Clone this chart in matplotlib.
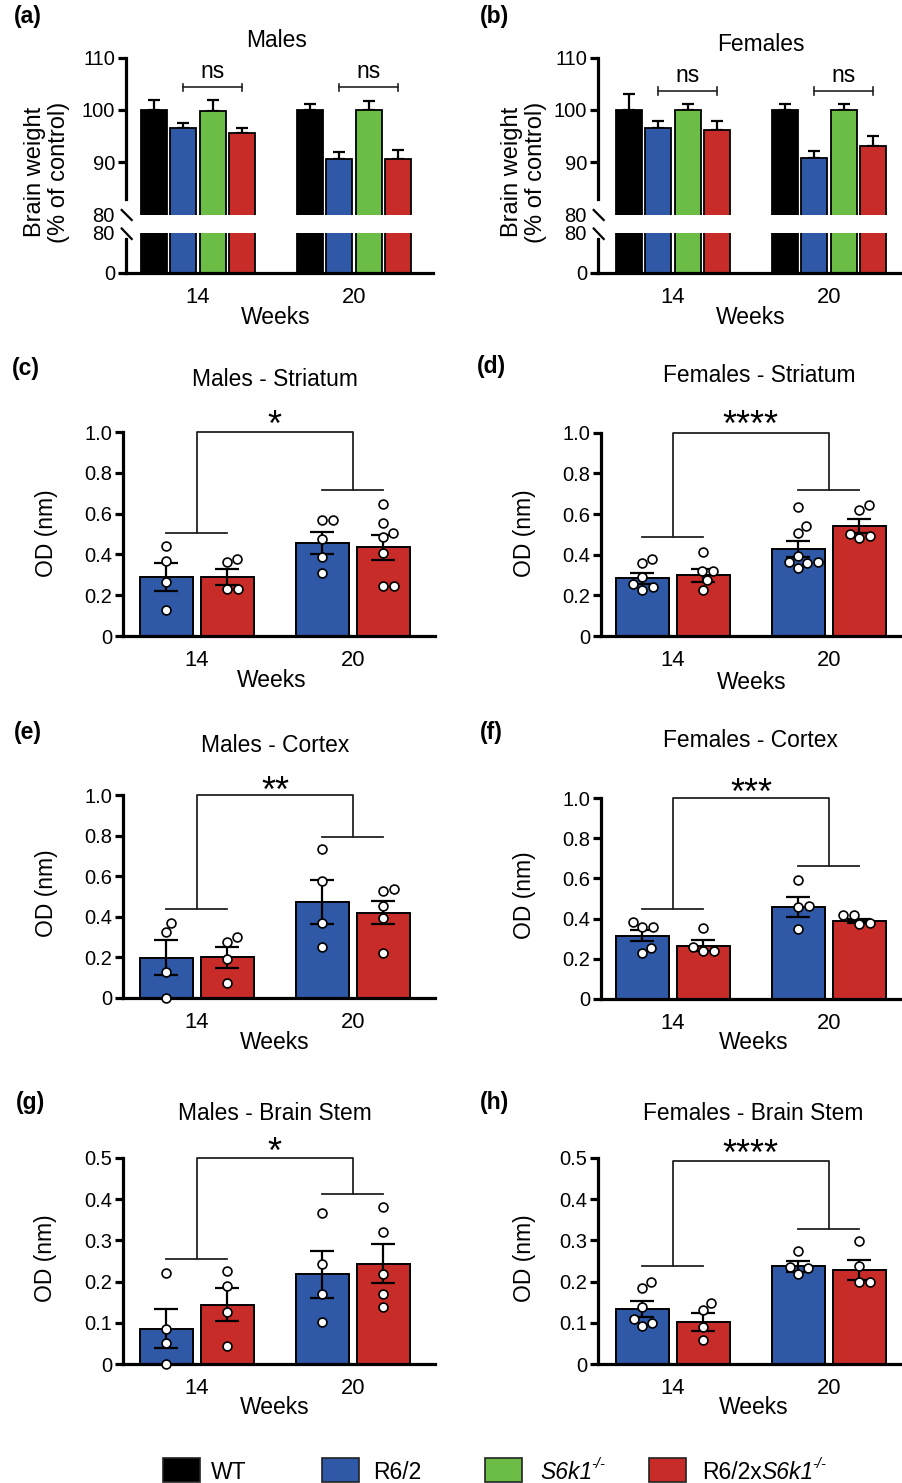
import numpy as np
import matplotlib
matplotlib.use('Agg')
import matplotlib.pyplot as plt
from matplotlib.lines import Line2D
from matplotlib.patches import Rectangle

plt.rcParams['font.family'] = ['Liberation Sans', 'DejaVu Sans']

W, H = 903, 1483

# ---------------- data ----------------
weeks = ['14', '20']
genotypes = ['WT', 'R6/2', 'S6k1', 'R6/2xS6k1']
geno_colors = ['#000000', '#2F58A6', '#6CBD45', '#C72C28']

# brain weight (% of control), rows = weeks, cols = genotypes
bw_males = [[100.0, 96.5, 99.8, 95.6], [100.0, 90.6, 99.9, 90.7]]
bw_males_err = [[2.0, 1.1, 2.2, 1.0], [1.2, 1.3, 1.9, 1.6]]
bw_females = [[100.0, 96.5, 99.9, 96.1], [100.0, 90.9, 99.9, 93.1]]
bw_females_err = [[3.1, 1.3, 1.2, 1.7], [1.1, 1.2, 1.2, 1.9]]

# OD values, order: R6/2 14w, R6/2xS6k1 14w, R6/2 20w, R6/2xS6k1 20w
od_m_str_mean = [0.290, 0.290, 0.455, 0.435]
od_m_str_sem = [0.070, 0.040, 0.053, 0.060]
od_m_str_pts = [[0.441, 0.368, 0.266, 0.127],
                [0.361, 0.377, 0.229, 0.232],
                [0.569, 0.569, 0.475, 0.386, 0.307],
                [0.647, 0.552, 0.503, 0.484, 0.408, 0.247, 0.247]]

od_f_str_mean = [0.284, 0.300, 0.428, 0.541]
od_f_str_sem = [0.027, 0.032, 0.040, 0.035]
od_f_str_pts = [[0.357, 0.380, 0.292, 0.256, 0.226, 0.239],
                [0.411, 0.320, 0.320, 0.274, 0.226],
                [0.636, 0.541, 0.505, 0.393, 0.366, 0.361, 0.364, 0.334],
                [0.644, 0.620, 0.480, 0.502, 0.492]]

od_m_ctx_mean = [0.198, 0.199, 0.473, 0.420]
od_m_ctx_sem = [0.087, 0.051, 0.107, 0.057]
od_m_ctx_pts = [[0.371, 0.325, 0.125, 0.0],
                [0.273, 0.298, 0.189, 0.071],
                [0.733, 0.575, 0.367, 0.249],
                [0.537, 0.526, 0.451, 0.394, 0.219]]

od_f_ctx_mean = [0.315, 0.265, 0.458, 0.388]
od_f_ctx_sem = [0.027, 0.028, 0.051, 0.010]
od_f_ctx_pts = [[0.357, 0.381, 0.360, 0.255, 0.227],
                [0.355, 0.239, 0.260, 0.240],
                [0.592, 0.464, 0.456, 0.348],
                [0.418, 0.418, 0.373, 0.376]]

od_m_bst_mean = [0.086, 0.144, 0.218, 0.243]
od_m_bst_sem = [0.047, 0.040, 0.057, 0.047]
od_m_bst_pts = [[0.222, 0.086, 0.051, 0.0],
                [0.227, 0.190, 0.126, 0.044],
                [0.365, 0.243, 0.171, 0.102],
                [0.381, 0.321, 0.219, 0.170, 0.138]]

od_f_bst_mean = [0.134, 0.102, 0.237, 0.228]
od_f_bst_sem = [0.019, 0.021, 0.013, 0.025]
od_f_bst_pts = [[0.185, 0.199, 0.139, 0.092, 0.109, 0.101],
                [0.131, 0.149, 0.090, 0.058],
                [0.274, 0.236, 0.219, 0.232],
                [0.298, 0.239, 0.198, 0.198]]

# bracket levels: top, 14w group, 20w group
brk_m_str = [1.0, 0.507, 0.716]
brk_f_str = [1.0, 0.489, 0.718]
brk_m_ctx = [1.0, 0.440, 0.792]
brk_f_ctx = [1.0, 0.448, 0.662]
brk_m_bst = [0.5, 0.255, 0.413]
brk_f_bst = [0.492, 0.239, 0.327]

ns_level_males = 104.3
ns_level_females = 103.6

# ---------------- helpers ----------------
fig = plt.figure(figsize=(W / 100, H / 100), dpi=100)

PX_UNIT = 156.0  # pixels between the two week groups

SPINE_LW = 2.3
LINE_C = '#222222'


def add_ax(x0, x1, top, bot):
    return fig.add_axes([x0 / W, 1 - bot / H, (x1 - x0) / W, (bot - top) / H])


def ftext(x, y, s, **kw):
    return fig.text(x / W, 1 - y / H, s, **kw)


def style_ax(ax):
    for side in ['top', 'right']:
        ax.spines[side].set_visible(False)
    for side in ['left', 'bottom']:
        ax.spines[side].set_linewidth(SPINE_LW)
    ax.tick_params(axis='y', length=6, width=SPINE_LW, labelsize=14.5, pad=2)
    ax.tick_params(axis='x', length=0, labelsize=15.8, pad=10)


def swarm_offsets(ax, xc, vals, d=10.5):
    # simple beeswarm in pixel space so the circles do not overlap
    vals = np.asarray(vals, float)
    ys = ax.transData.transform(np.column_stack([np.full(len(vals), xc), vals]))[:, 1]
    steps = np.arange(0, 26, 0.5)
    cands = sorted(np.concatenate([steps, -steps[1:]]), key=abs)
    placed = []
    offs = np.zeros(len(vals))
    for i in np.argsort(vals):
        for c in cands:
            if all((c - px) ** 2 + (ys[i] - py) ** 2 >= d * d for px, py in placed):
                break
        offs[i] = c
        placed.append((c, ys[i]))
    return offs / PX_UNIT


def slash(x0, y0, x1, y1):
    fig.add_artist(Line2D([x0 / W, x1 / W], [1 - y0 / H, 1 - y1 / H],
                          color='k', lw=1.6, transform=fig.transFigure))


# ---------------- brain weight panels (a), (b) ----------------
def brain_weight_panel(x0, gc, means, errs, ns_level, ns_base, title, title_xy,
                       letter, letter_x, ylab_x):
    x_end = gc + 235
    xlim = (-(gc - x0) / PX_UNIT, (x_end - gc) / PX_UNIT)
    up = add_ax(x0, x_end, 57.7, 214.5)
    lo = add_ax(x0, x_end, 232.5, 272.7)
    step = 29.5 / PX_UNIT
    width = 26 / PX_UNIT
    offs = (np.arange(4) - 1.5) * step
    for ax in (up, lo):
        style_ax(ax)
        ax.set_xlim(*xlim)
        for g in range(2):
            xs = g + offs
            ax.bar(xs, means[g], width=width, color=geno_colors, edgecolor='k',
                   linewidth=1.3, zorder=2)
    for g in range(2):
        xs = g + offs
        up.errorbar(xs, means[g], yerr=[np.zeros(4), errs[g]], fmt='none',
                    ecolor='k', elinewidth=1.6, capsize=4.2, capthick=1.6, zorder=1)
        # ns bracket between R6/2 and R6/2xS6k1
        xb, xr = xs[1], xs[3]
        up.plot([xb, xr], [ns_level, ns_level], color=LINE_C, lw=1.2, clip_on=False)
        for xx in (xb, xr):
            up.plot([xx, xx], [ns_level - 0.7, ns_level + 0.7], color=LINE_C, lw=1.2,
                    clip_on=False)
        up.text((xb + xr) / 2, ns_base, 'ns', ha='center', va='baseline', fontsize=16.5)

    up.set_ylim(80, 110)
    up.set_yticks([80, 90, 100, 110])
    up.spines['bottom'].set_visible(False)
    up.spines['left'].set_bounds(83, 110)
    up.set_xticks([])
    up.yaxis.get_major_ticks()[0].tick1line.set_visible(False)

    lo.set_ylim(0, 80)
    lo.set_yticks([0, 80])
    lo.spines['left'].set_bounds(0, 67)
    lo.yaxis.get_major_ticks()[1].tick1line.set_visible(False)
    lo.set_xticks([0, 1], weeks)

    slash(x0 - 4.3, 210, x0 + 5.7, 220)
    slash(x0 - 4.3, 228.5, x0 + 5.7, 239)

    ftext(title_xy[0], title_xy[1] + 8, title, ha='center', va='baseline', fontsize=16.4)
    ftext(gc + 78, 316 + 8, 'Weeks', ha='center', va='baseline', fontsize=16.5)
    ftext(letter_x, 17, letter, ha='left', va='center', fontsize=16.5, fontweight='bold')
    ftext(ylab_x, 172, 'Brain weight', rotation=90, ha='center', va='center', fontsize=17)
    ftext(ylab_x + 24, 172, '(% of control)', rotation=90, ha='center', va='center',
          fontsize=17)


brain_weight_panel(126, 198, bw_males, bw_males_err, ns_level_males, 106.2,
                   'Males', (277, 39), '(a)', 14, 35)
brain_weight_panel(598, 673, bw_females, bw_females_err, ns_level_females, 105.35,
                   'Females', (761, 43), '(b)', 480, 512)


# ---------------- OD panels (c)-(h) ----------------
def od_panel(x0, gc, top, bot, ymax, yticks, ylabels, means, sems, pts, brk,
             stars, star_xy, title, title_xy, letter, letter_xy, ylab_xy, weeks_xy):
    x_end = gc + 238
    ax = add_ax(x0, x_end, top, bot)
    style_ax(ax)
    ax.set_xlim(-(gc - x0) / PX_UNIT, (x_end - gc) / PX_UNIT)
    ax.set_ylim(0, ymax)
    ax.set_yticks(yticks, ylabels)
    ax.set_xticks([0, 1], weeks)

    off = 30.5 / PX_UNIT
    width = 53 / PX_UNIT
    xs = np.array([-off, off, 1 - off, 1 + off])
    cols = [geno_colors[1], geno_colors[3]] * 2
    ax.bar(xs, means, width=width, color=cols, edgecolor='k', linewidth=1.4, zorder=2)
    ax.errorbar(xs, means, yerr=sems, fmt='none', ecolor='k', elinewidth=1.6,
                capsize=8.3, capthick=1.6, zorder=3)
    for xc, vals in zip(xs, pts):
        dx = swarm_offsets(ax, xc, vals)
        ax.plot(xc + dx, vals, 'o', ms=6.4, mfc='white', mec='k', mew=1.2,
                zorder=4, clip_on=False)

    t, l, r = brk
    ax.plot([0, 0, 1, 1], [l, t, t, r], color=LINE_C, lw=1.3, clip_on=False)
    ax.plot([-off, off], [l, l], color=LINE_C, lw=1.3, clip_on=False)
    ax.plot([1 - off, 1 + off], [r, r], color=LINE_C, lw=1.3, clip_on=False)

    ftext(star_xy[0], star_xy[1] + 21, stars, ha='center', va='baseline', fontsize=26)
    ftext(title_xy[0], title_xy[1] + 8, title, ha='center', va='baseline', fontsize=16.4)
    ftext(weeks_xy[0], weeks_xy[1] + 8, 'Weeks', ha='center', va='baseline', fontsize=16.5)
    ftext(letter_xy[0], letter_xy[1], letter, ha='left', va='center', fontsize=16.5,
          fontweight='bold')
    ftext(ylab_xy[0], ylab_xy[1], 'OD (nm)', rotation=90, ha='center', va='center',
          fontsize=16.5)


yt1 = [0, 0.2, 0.4, 0.6, 0.8, 1.0]
yl1 = ['0', '0.2', '0.4', '0.6', '0.8', '1.0']
yt2 = [0, 0.1, 0.2, 0.3, 0.4, 0.5]
yl2 = ['0', '0.1', '0.2', '0.3', '0.4', '0.5']

od_panel(123, 197, 432, 636, 1.0, yt1, yl1, od_m_str_mean, od_m_str_sem, od_m_str_pts,
         brk_m_str, '*', (274, 415), 'Males - Striatum', (275, 378), '(c)', (12, 368),
         (47, 533), (272, 679))
od_panel(601, 673, 432.7, 636, 1.0, yt1, yl1, od_f_str_mean, od_f_str_sem, od_f_str_pts,
         brk_f_str, '****', (750, 415), 'Females - Striatum', (759, 374), '(d)',
         (477, 367), (525, 533), (752, 681))
od_panel(123, 197, 795.3, 997.7, 1.0, yt1, yl1, od_m_ctx_mean, od_m_ctx_sem, od_m_ctx_pts,
         brk_m_ctx, '**', (275, 781), 'Males - Cortex', (275, 744), '(e)', (14, 733),
         (47, 893), (275, 1041))
od_panel(601, 673, 798, 999, 1.0, yt1, yl1, od_f_ctx_mean, od_f_ctx_sem, od_f_ctx_pts,
         brk_f_ctx, '***', (751, 783), 'Females - Cortex', (750, 739), '(f)', (480, 733),
         (525, 895), (754, 1041))
od_panel(123, 197, 1157.7, 1364.3, 0.5, yt2, yl2, od_m_bst_mean, od_m_bst_sem,
         od_m_bst_pts, brk_m_bst, '*', (274, 1142), 'Males - Brain Stem', (275, 1112),
         '(g)', (16, 1102), (46, 1258), (275, 1406))
od_panel(598, 673, 1157.7, 1364.3, 0.5, yt2, yl2, od_f_bst_mean, od_f_bst_sem,
         od_f_bst_pts, brk_f_bst, '****', (750, 1144), 'Females - Brain Stem', (753, 1112),
         '(h)', (480, 1102), (525, 1258), (754, 1406))

# ---------------- legend ----------------
legend_boxes = [163, 322, 485, 649]
for x, c in zip(legend_boxes, geno_colors):
    fig.add_artist(Rectangle((x / W, 1 - 1482 / H), 37 / W, 24 / H, facecolor=c,
                             edgecolor='#222222', lw=1.2, transform=fig.transFigure))
ftext(211, 1479, 'WT', ha='left', va='baseline', fontsize=16.5)
ftext(373, 1479, 'R6/2', ha='left', va='baseline', fontsize=16.5)
ftext(540, 1479, 'S6k1', ha='left', va='baseline', fontsize=16.5, style='italic')
ftext(591, 1468, '-/-', ha='left', va='baseline', fontsize=10.5, style='italic')
ftext(702, 1479, 'R6/2x', ha='left', va='baseline', fontsize=16.5)
ftext(761, 1479, 'S6k1', ha='left', va='baseline', fontsize=16.5, style='italic')
ftext(812, 1468, '-/-', ha='left', va='baseline', fontsize=10.5, style='italic')

fig.savefig('out.png', dpi=100)
